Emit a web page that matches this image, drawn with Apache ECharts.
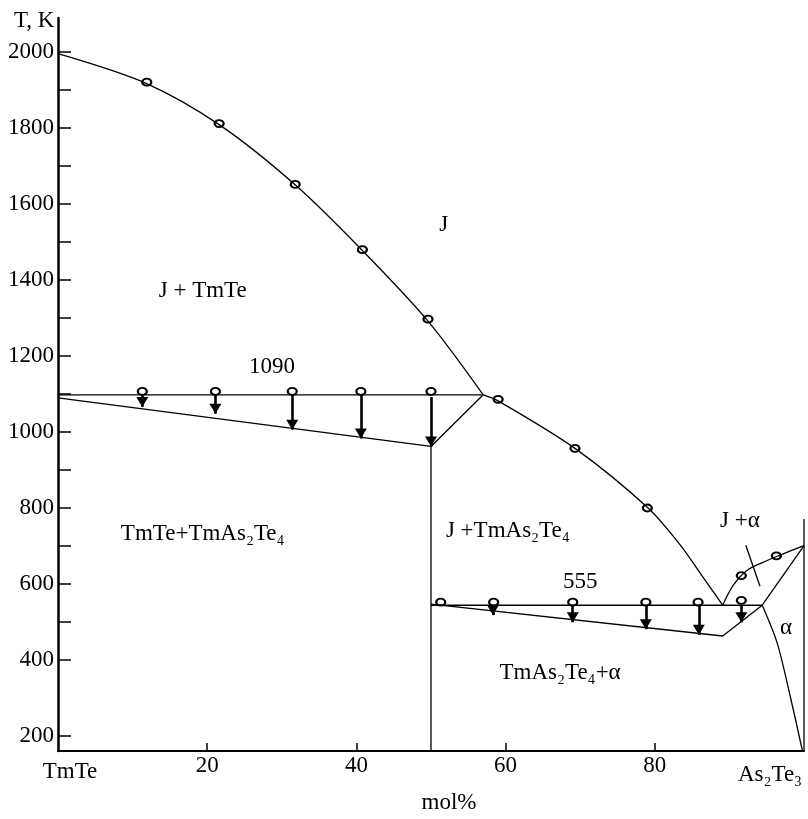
<!DOCTYPE html>
<html><head><meta charset="utf-8">
<script src="https://cdn.jsdelivr.net/npm/echarts@6/dist/echarts.min.js"></script>
<style>html,body{margin:0;padding:0;background:#fff}#c{width:808px;height:819px}</style>
</head><body><div id="c"></div>
<script>
// ---- axis ticks ----
const yTickLabels = [200, 400, 600, 800, 1000, 1200, 1400, 1600, 1800, 2000];
const yTickMarks = [200, 400, 500, 600, 700, 800, 900, 1000, 1100, 1200, 1300, 1400, 1500, 1600, 1700, 1800, 1900, 2000];
const xTickLabels = [0, 20, 40, 60, 80, 100];
const xTickMarks = [20, 40, 60, 80];
const xEndNames = { 0: 'TmTe', 100: 'As₂Te₃' };

// ---- phase boundaries [mol% As2Te3, T K] ----
const liquidusTmTe = [[0, 1996], [11.8, 1918], [21.7, 1808], [31.9, 1649], [40.8, 1478], [49.6, 1292], [57.0, 1098]];
const liquidusMid = [[57.0, 1098], [59.0, 1082], [69.3, 957], [79.1, 800], [83.4, 703], [86.1, 628], [89.1, 544]];
const liquidusAlpha = [[89.1, 544], [90.5, 596], [92.3, 635], [94.5, 657], [96.8, 676], [100, 701]];
const peritectic1090 = [[0, 1098], [57.0, 1098]];
const solidusLeft = [[0, 1090], [50, 962], [57.0, 1098]];
const compound50 = [[50, 962], [50, 160]];
const eutectic555 = [[50, 544], [94.4, 544]];
const solidusRight = [[50, 547], [89.1, 463], [94.4, 544]];
const alphaSolidus = [[94.4, 544], [100, 701]];
const alphaSolvus = [[94.4, 544], [96.4, 445], [98.1, 309], [99.8, 160]];
const as2te3Line = [[100, 160], [100, 771]];
const tieMark = [[92.2, 702], [94.1, 594]];

// ---- experimental points (open circles) ----
const liquidusPoints = [[11.9, 1921], [21.6, 1812], [31.8, 1652], [40.8, 1480], [49.6, 1297], [59.0, 1086], [69.3, 957], [79.0, 800], [91.6, 622], [96.3, 674]];
const points1090 = [[11.3, 1107], [21.1, 1107], [31.4, 1107], [40.6, 1107], [50, 1107]];
const points555 = [[51.3, 552], [58.4, 552], [69.0, 552], [78.8, 552], [85.8, 552], [91.6, 557]];

// ---- arrows [x, T from, T to] ----
const arrows1090 = [[11.3, 1098, 1066], [21.1, 1098, 1048], [31.4, 1098, 1006], [40.6, 1098, 983], [50, 1092, 962]];
const arrows555 = [[58.3, 544, 518], [69.0, 544, 499], [78.8, 544, 481], [85.9, 544, 466], [91.6, 544, 499]];

// ---- region / isotherm labels [x, T, text] ----
const regionLabels = [
  [51.7, 1544, 'J'],
  [19.4, 1372, 'J + TmTe'],
  [28.7, 1171, '1090'],
  [19.4, 732, 'TmTe+TmAs₂Te₄'],
  [60.3, 740, 'J +TmAs₂Te₄'],
  [70.0, 604, '555'],
  [91.4, 766, 'J +α'],
  [97.6, 484, 'α'],
  [67.3, 366, 'TmAs₂Te₄+α']
];

const FONT = '"Liberation Serif", "DejaVu Serif", serif';
const FS = 23;

const curves = { liquidusTmTe, liquidusMid, liquidusAlpha, alphaSolvus };
const straights = { peritectic1090, solidusLeft, compound50, eutectic555, solidusRight, alphaSolidus, as2te3Line, tieMark };

const series = [];
Object.keys(curves).forEach(k => series.push({
  name: k, type: 'line', data: curves[k], smooth: 0.3, symbol: 'none', clip: false,
  lineStyle: { color: '#000', width: 1.3 }, silent: true
}));
Object.keys(straights).forEach(k => series.push({
  name: k, type: 'line', data: straights[k], smooth: false, symbol: 'none', clip: false,
  lineStyle: { color: '#000', width: 1.3 }, silent: true
}));

function arrowData(list) {
  return list.map(a => [
    { coord: [a[0], a[1]], symbol: 'none' },
    { coord: [a[0], a[2]], symbol: 'triangle', symbolSize: [12, 10], symbolOffset: [0, '50%'] }
  ]);
}
series.push({
  name: 'arrows', type: 'line', data: [], symbol: 'none',
  markLine: {
    silent: true, animation: false, symbol: ['none', 'triangle'],
    label: { show: false },
    lineStyle: { color: '#000', width: 2.6, type: 'solid' },
    itemStyle: { color: '#000' },
    emphasis: { disabled: true },
    data: arrowData(arrows1090).concat(arrowData(arrows555))
  }
});

series.push({
  name: 'points', type: 'scatter', data: liquidusPoints.concat(points1090, points555),
  symbol: 'emptyCircle', symbolSize: [9, 7], clip: false, silent: true,
  itemStyle: { color: '#000', borderColor: '#000', borderWidth: 1, opacity: 1 }
});

series.push({
  name: 'labels', type: 'scatter', symbolSize: 0, silent: true, clip: false,
  itemStyle: { opacity: 1, color: '#000' },
  data: regionLabels.map(d => ({ value: [d[0], d[1]], label: { formatter: d[2] } })),
  label: { show: true, position: 'inside', fontFamily: FONT, fontSize: FS, color: '#000', opacity: 1, textBorderWidth: 0 }
});

const chart = echarts.init(document.getElementById('c'), null, { renderer: 'canvas' });
chart.setOption({
  backgroundColor: '#fff',
  animation: false,
  title: { text: 'T, K', left: 9, top: 4, textStyle: { fontFamily: FONT, fontSize: FS, fontWeight: 'normal', color: '#000' } },
  grid: { left: 58, right: 4, top: 18, bottom: 62, containLabel: false },
  xAxis: {
    type: 'value', min: 0, max: 100,
    axisLine: { onZero: false, lineStyle: { color: '#000', width: 2 } },
    axisTick: { show: true, inside: true, length: 8, customValues: xTickMarks, lineStyle: { color: '#000', width: 1.5 } },
    axisLabel: {
      customValues: xTickLabels, margin: 3, fontFamily: FONT, fontSize: FS, color: '#000',
      formatter: v => v === 0 ? '{l|' + xEndNames[0] + '}' : (v === 100 ? '{r|' + xEndNames[100] + '}' : String(v)),
      rich: {
        l: { fontFamily: FONT, fontSize: FS, color: '#000', padding: [6, 0, 0, 24] },
        r: { fontFamily: FONT, fontSize: FS, color: '#000', padding: [9, 68, 0, 0] }
      }
    },
    splitLine: { show: false },
    name: 'mol%', nameLocation: 'middle', nameGap: 37,
    nameTextStyle: { fontFamily: FONT, fontSize: FS, color: '#000', padding: [0, 0, 0, 36] }
  },
  yAxis: {
    type: 'value', min: 160, max: 2090,
    axisLine: { show: true, lineStyle: { color: '#000', width: 2.5 } },
    axisTick: { show: true, inside: true, length: 13, customValues: yTickMarks, lineStyle: { color: '#000', width: 1.5 } },
    axisLabel: { customValues: yTickLabels, margin: 4, fontFamily: FONT, fontSize: FS, color: '#000', formatter: v => String(v) },
    splitLine: { show: false }
  },
  series: series
});
</script>
</body></html>
